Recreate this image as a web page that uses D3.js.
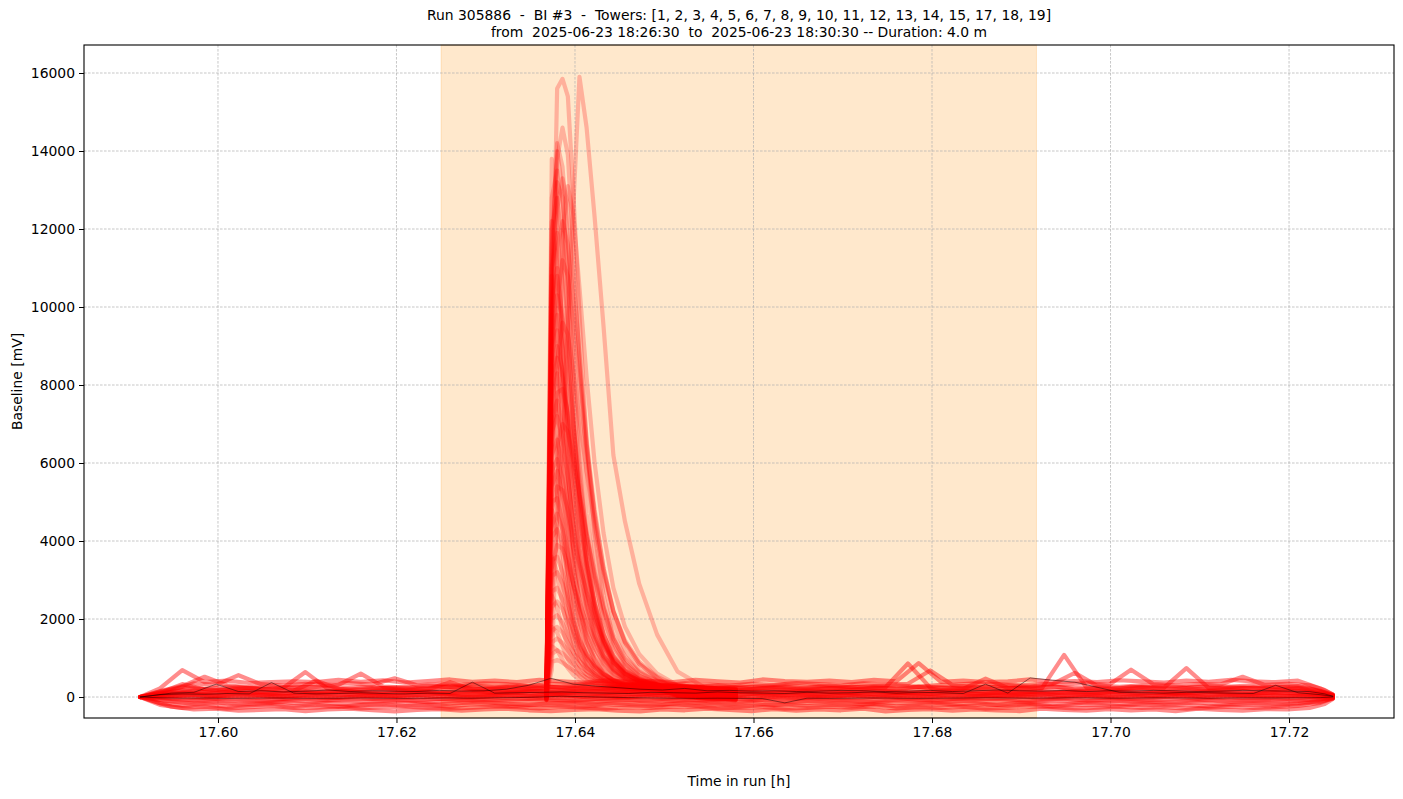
<!DOCTYPE html>
<html>
<head>
<meta charset="utf-8">
<script src="https://cdn.jsdelivr.net/npm/d3@7"></script>
<style>
  body { margin: 0; background: #fff; }
  svg { display: block; font-family: "DejaVu Sans", sans-serif; }
  text { white-space: pre; }
</style>
</head>
<body>
<div id="chart"></div>
<script>
/* ============================================= */
/* Data */
/* ============================================= */

const titleLines = [
    'Run 305886  -  BI #3  -  Towers: [1, 2, 3, 4, 5, 6, 7, 8, 9, 10, 11, 12, 13, 14, 15, 17, 18, 19]',
    'from  2025-06-23 18:26:30  to  2025-06-23 18:30:30 -- Duration: 4.0 m'
];
const xLabel = 'Time in run [h]';
const yLabel = 'Baseline [mV]';

const xTicks = [17.60, 17.62, 17.64, 17.66, 17.68, 17.70, 17.72];
const yTicks = [0, 2000, 4000, 6000, 8000, 10000, 12000, 14000, 16000];

// shaded run window (18:26:30 -> 18:30:30)
const spanStart = 17.6250;
const spanEnd = 17.6917;

// sample times [h] of the two baseline readout grids
const gridA = [17.5913, 17.5935, 17.5960, 17.5985, 17.6010, 17.6035, 17.6060, 17.6085, 17.6110, 17.6135,
    17.6160, 17.6185, 17.6210, 17.6235, 17.6260, 17.6285, 17.6310, 17.6335, 17.6360, 17.6385,
    17.6410, 17.6435, 17.6460, 17.6485, 17.6510, 17.6535, 17.6560, 17.6585, 17.6610, 17.6635,
    17.6660, 17.6685, 17.6710, 17.6735, 17.6760, 17.6785, 17.6810, 17.6835, 17.6860, 17.6885,
    17.6910, 17.6935, 17.6960, 17.6985, 17.7010, 17.7035, 17.7060, 17.7085, 17.7110, 17.7135,
    17.7160, 17.7185, 17.7210, 17.7235, 17.7249];
const gridB = [17.5913, 17.5948, 17.5973, 17.5998, 17.6023, 17.6048, 17.6073, 17.6098, 17.6123, 17.6148,
    17.6173, 17.6198, 17.6223, 17.6248, 17.6273, 17.6298, 17.6323, 17.6348, 17.6373, 17.6398,
    17.6423, 17.6448, 17.6473, 17.6498, 17.6523, 17.6548, 17.6573, 17.6598, 17.6623, 17.6648,
    17.6673, 17.6698, 17.6723, 17.6748, 17.6773, 17.6798, 17.6823, 17.6848, 17.6873, 17.6898,
    17.6923, 17.6948, 17.6973, 17.6998, 17.7023, 17.7048, 17.7073, 17.7098, 17.7123, 17.7148,
    17.7173, 17.7198, 17.7223, 17.7240, 17.7249];

// sample times [h] across the pulse
const pulseTimes = [17.6368, 17.6374, 17.6380, 17.6386, 17.6392, 17.6398, 17.6405, 17.6413, 17.6422,
    17.6432, 17.6443, 17.6456, 17.6472, 17.6492, 17.6515, 17.6545, 17.6580];

// channels without pulse [mV], each on gridA (even) or gridB (odd)
const baselineTraces = [
    [0,60,120,90,140,110,80,130,100,150,120,90,110,140,100,130,90,120,150,110,130,100,140,120,90,130,110,150,100,120,90,140,110,130,100,120,150,110,90,130,120,100,140,110,130,90,120,100,140,110,90,120,100,80,40],
    [0,40,70,30,90,50,20,60,80,40,70,30,50,90,60,20,70,40,80,50,30,60,90,40,70,50,20,80,60,40,70,30,90,50,60,80,40,70,30,60,90,50,40,70,60,30,80,50,70,40,60,30,50,20,10],
    [0,110,330,200,170,240,190,160,420,210,180,230,170,200,380,190,220,170,210,180,240,200,170,220,190,260,210,180,230,200,170,220,190,240,200,260,180,210,470,230,200,280,190,220,180,240,200,230,180,210,250,190,220,120,50],
    [0,-50,-80,-40,-70,-90,-60,-50,-80,-70,-40,-60,-90,-50,-70,-80,-60,-40,-70,-90,-60,-50,-80,-70,-60,-90,-50,-70,-80,-60,-40,-70,-90,-60,-50,-80,-70,-60,-40,-80,-70,-50,-90,-60,-80,-70,-50,-60,-80,-70,-60,-50,-70,-40,-20],
    [0,150,280,520,300,250,280,230,260,310,600,270,240,290,260,300,250,280,240,260,300,270,250,320,280,260,300,240,280,310,260,290,250,280,300,260,310,280,250,300,270,330,620,290,260,300,280,250,280,270,300,260,280,160,60],
    [0,130,220,180,250,200,230,640,210,190,240,220,200,260,230,190,240,210,250,220,200,240,260,220,190,230,250,210,240,200,260,230,210,250,860,240,220,230,200,250,220,1080,240,200,260,230,210,250,220,240,200,230,210,120,40],
    [0,10,30,-10,40,20,0,30,10,-20,20,40,10,0,30,-10,20,40,10,30,0,20,-10,30,10,40,20,0,30,10,-10,20,40,0,30,10,20,-10,30,40,10,0,20,30,-10,20,10,40,0,30,20,10,30,0,0],
    [0,-120,-170,-140,-190,-160,-130,-180,-150,-200,-170,-140,-160,-190,-150,-130,-170,-200,-160,-140,-180,-150,-170,-190,-140,-160,-180,-150,-200,-170,-140,-160,-190,-150,-170,-140,-180,-160,-200,-150,-170,-190,-140,-160,-180,-150,-170,-140,-190,-160,-150,-170,-130,-80,-30],
    [0,-200,-280,-250,-300,-260,-230,-280,-270,-240,-290,-260,-250,-280,-300,-270,-240,-260,-290,-250,-270,-300,-260,-280,-250,-240,-290,-270,-260,-300,-280,-250,-270,-240,-290,-260,-280,-250,-300,-270,-240,-260,-290,-270,-250,-280,-260,-300,-270,-250,-280,-260,-230,-150,-40],
    [0,180,350,310,560,330,290,340,310,360,320,480,300,340,310,350,330,290,340,320,360,310,340,300,350,320,290,340,310,360,330,300,350,320,340,680,310,350,330,300,340,320,360,310,700,330,300,340,320,520,310,340,300,180,60],
    [0,100,160,130,170,150,120,180,140,160,130,170,150,140,180,160,130,170,150,140,170,160,130,180,150,140,170,130,160,180,150,140,170,160,130,180,150,170,140,160,130,180,150,160,140,170,130,160,150,180,140,170,150,90,30],
    [0,-30,-10,-40,0,-20,-50,-10,-30,0,-40,-20,-10,-50,-30,0,-20,-40,-10,-30,-50,-20,0,-40,-10,-30,-20,-50,0,-40,-10,-30,-20,0,-40,-10,-50,-20,-30,0,-40,-20,-10,-30,-50,-20,0,-40,-10,-30,-20,-40,-10,-10,0],
    [0,220,690,380,420,360,380,400,380,440,390,430,370,410,450,390,420,380,440,400,370,430,390,410,380,440,400,370,450,410,390,420,380,440,400,870,390,420,380,400,450,390,410,380,430,400,370,420,390,440,400,380,420,220,70],
    [0,70,100,60,110,90,70,120,80,100,60,90,110,80,70,100,120,90,60,110,80,100,70,90,120,60,100,80,110,90,70,100,60,120,90,80,110,70,100,90,60,120,80,100,70,110,90,80,100,60,110,90,70,40,10],
    [0,-80,-110,-90,-120,-100,-130,-90,-110,-80,-120,-100,-90,-130,-110,-80,-100,-120,-90,-110,-130,-100,-80,-120,-90,-110,-100,-130,-80,-120,-100,-90,-110,-130,-80,-100,-120,-90,-110,-100,-130,-80,-120,-100,-90,-110,-130,-100,-80,-120,-90,-110,-100,-60,-20],
    [0,-250,-320,-300,-350,-330,-310,-360,-320,-300,-340,-370,-330,-310,-350,-320,-300,-340,-360,-330,-310,-350,-370,-320,-340,-300,-330,-360,-310,-350,-320,-340,-300,-370,-330,-310,-350,-320,-340,-360,-300,-330,-350,-310,-340,-320,-360,-300,-330,-350,-310,-320,-280,-180,-50],
    [0,140,250,210,260,230,200,270,240,220,260,230,250,210,280,240,220,260,300,230,250,210,240,270,230,260,220,250,240,270,210,230,260,240,220,270,250,230,260,220,240,270,230,250,220,260,240,740,230,250,220,260,240,140,40],
    [0,90,140,110,160,130,100,150,120,140,110,160,130,100,150,140,120,160,110,130,150,120,140,100,160,130,110,150,120,140,160,100,130,150,120,110,140,160,130,120,150,110,140,130,160,120,100,150,130,140,110,160,130,70,20],
    [0,-160,-220,-190,-240,-210,-180,-230,-200,-250,-210,-190,-230,-200,-240,-180,-210,-230,-200,-220,-240,-190,-210,-230,-180,-220,-200,-240,-210,-190,-230,-200,-220,-180,-240,-210,-190,-230,-200,-220,-180,-240,-210,-200,-230,-190,-220,-200,-240,-210,-190,-220,-180,-120,-40],
    [0,30,60,20,50,40,10,60,30,50,20,40,60,30,10,50,40,20,60,30,50,10,40,60,20,50,30,40,10,60,30,50,20,40,60,10,50,30,40,20,60,30,50,10,40,20,60,30,50,40,20,50,30,20,10]
];

// channels with the pulse [mV], on pulseTimes
const pulseTraces = [
    [-60,9000,15600,15850,15400,13000,9800,6500,4200,2600,1500,900,550,350,40,-20,-60],
    [40,2500,4500,6500,9500,12500,15900,14600,12300,9500,6200,4500,2900,1600,650,250,40],
    [150,8500,13800,14600,13900,11500,8600,5800,3800,2300,1400,850,500,320,250,190,150],
    [0,11000,14200,13600,11800,9200,6800,4700,3100,1900,1200,750,480,330,100,40,0],
    [100,10500,13200,12800,11000,8500,6000,4000,2600,1600,1000,650,430,300,200,140,100],
    [200,9500,12500,13300,12600,10800,8800,6600,4600,3000,1900,1200,700,420,300,240,200],
    [-30,12000,12800,11500,9400,7200,5200,3500,2300,1450,900,600,420,310,70,10,-30],
    [80,7800,11500,12200,11600,10200,8400,6500,4800,3300,2200,1400,850,480,180,120,80],
    [170,11000,11900,10600,8800,6900,5100,3600,2400,1600,1050,700,460,320,270,210,170],
    [20,6000,10200,11200,10800,9600,8000,6300,4700,3300,2200,1400,850,500,120,60,20],
    [120,10000,10800,9800,8100,6300,4700,3300,2200,1400,900,600,400,290,220,160,120],
    [-80,9200,10300,9700,8500,7000,5600,4200,3000,2000,1300,850,540,360,20,-40,-80],
    [60,9000,9800,9000,7500,5900,4400,3100,2100,1350,880,580,400,300,160,100,60],
    [180,5200,8600,9600,9300,8400,7100,5800,4400,3200,2200,1450,900,520,280,220,180],
    [10,8200,9000,8400,7100,5600,4200,3000,2000,1300,850,560,380,280,110,50,10],
    [-60,7800,8700,8200,7200,5900,4600,3400,2400,1600,1050,680,450,320,40,-20,-60],
    [40,7600,8300,7500,6200,4800,3500,2400,1600,1050,700,480,350,270,140,80,40],
    [150,6500,7800,7900,7300,6300,5200,4100,3100,2200,1500,980,620,400,250,190,150],
    [0,7000,7600,6900,5700,4400,3300,2300,1550,1000,680,470,340,260,100,40,0],
    [100,6800,7200,6600,5600,4500,3500,2600,1850,1250,820,550,380,280,200,140,100],
    [200,4000,6400,7000,6800,6100,5200,4200,3200,2300,1600,1050,650,400,300,240,200],
    [-30,6200,6600,6000,5000,3900,2900,2050,1400,950,650,450,330,260,70,10,-30],
    [80,5800,6100,5600,4700,3800,2900,2150,1550,1050,720,490,350,270,180,120,80],
    [170,5400,5800,5200,4300,3300,2500,1800,1250,850,580,420,310,250,270,210,170],
    [20,4800,5400,5300,4800,4100,3400,2700,2000,1450,1000,680,450,320,120,60,20],
    [120,5000,5100,4500,3700,2900,2200,1600,1100,760,520,380,290,240,220,160,120],
    [-80,4400,4700,4300,3600,2900,2250,1700,1250,880,620,440,320,260,20,-40,-80],
    [60,4100,4300,3900,3200,2500,1900,1400,1000,700,500,370,290,240,160,100,60],
    [180,3300,3900,3800,3400,2900,2400,1900,1450,1050,750,520,370,280,280,220,180],
    [10,3500,3600,3200,2600,2000,1500,1100,800,580,430,330,270,230,110,50,10],
    [-60,3100,3200,2900,2400,1900,1450,1100,820,600,450,340,280,230,40,-20,-60],
    [40,2700,2800,2500,2100,1700,1300,1000,760,570,430,330,270,230,140,80,40],
    [150,2300,2450,2250,1900,1550,1250,980,760,580,440,340,280,240,250,190,150],
    [0,2000,2100,1900,1600,1300,1050,820,640,500,390,310,260,220,100,40,0],
    [100,1700,1800,1650,1400,1150,930,750,600,470,380,300,250,220,200,140,100],
    [200,1400,1500,1380,1200,1000,820,670,540,440,360,290,250,220,300,240,200],
    [-30,1100,1200,1120,980,840,700,580,480,400,330,280,240,210,70,10,-30],
    [80,900,950,880,780,680,580,490,420,360,300,260,230,210,180,120,80],
    [170,12800,13500,12000,9600,7100,5000,3400,2200,1400,900,600,420,300,270,210,170],
    [20,700,5000,11800,13100,12400,10500,8200,6000,4200,2800,1800,1100,600,300,120,20],
    [120,13800,12500,9000,6000,3800,2400,1500,950,620,420,320,260,220,220,160,120],
    [-80,12200,11000,8000,5400,3500,2200,1400,900,600,420,310,250,210,20,-40,-80],
    [60,10800,9500,6800,4500,2900,1900,1200,800,540,390,300,250,210,160,100,60],
    [180,9800,8200,5800,3800,2500,1600,1050,700,490,360,280,240,210,280,220,180],
    [10,8500,7000,4900,3200,2100,1400,900,620,440,330,270,230,200,110,50,10],
    [-60,7200,6100,4300,2900,1900,1250,830,580,420,320,260,230,200,40,-20,-60],
    [40,6000,5200,3700,2500,1650,1100,750,530,390,300,250,220,200,140,80,40],
    [150,4800,4200,3000,2050,1400,950,660,480,360,290,240,210,190,250,190,150],
    [0,3600,3200,2350,1650,1150,800,570,420,330,270,230,200,190,100,40,0],
    [100,2600,2300,1750,1250,900,650,480,370,300,250,220,200,180,200,140,100],
    [200,1800,1650,1300,960,720,540,410,330,270,230,210,190,180,300,240,200],
    [-30,1300,1200,950,740,570,450,360,300,250,220,200,190,180,70,10,-30],
    [80,11500,14000,13000,10500,7800,5500,3700,2400,1500,950,620,420,300,180,120,80],
    [170,10200,11000,9200,7000,5100,3600,2500,1700,1100,720,480,350,270,270,210,170],
    [20,8800,9400,8300,6700,5100,3800,2700,1900,1300,880,600,420,310,120,60,20]
];

// reference channels drawn in thin black [mV]
const blackTraceA = [0,-20,-30,-25,-35,-30,-25,-30,-35,-30,-25,-30,-35,-30,-25,-30,-20,-15,0,20,10,-5,-15,-25,-30,-35,-30,-35,-40,-150,-30,-35,-30,-25,-30,-35,-30,-25,-20,-25,-30,-25,-20,-25,-30,-25,-20,-25,-30,-25,-20,-25,-20,-15,0];
const blackTraceB = [0,100,120,330,140,160,130,150,180,140,160,150,140,170,150,160,200,300,480,330,280,240,200,180,220,160,170,150,160,140,150,170,160,140,150,170,140,160,180,160,150,170,140,160,150,170,160,140,150,170,160,150,140,80,20];
const blackTraceC = [0,60,80,70,90,80,370,100,80,90,110,90,80,100,90,380,100,110,120,130,110,100,90,120,110,100,130,110,100,90,120,100,110,130,100,120,110,90,330,100,490,430,380,250,120,110,100,120,110,100,90,300,110,60,20];

/* ============================================= */
/* Layout and Scales */
/* ============================================= */

const W = 1403, H = 799;
const plot = { left: 84, right: 1394, top: 45, bottom: 718 };
const fontSize = '13.9px';

const svg = d3.select('#chart').append('svg')
    .attr('width', W)
    .attr('height', H);

const x = d3.scaleLinear()
    .domain([17.58499, 17.73176])
    .range([plot.left, plot.right]);

const y = d3.scaleLinear()
    .domain([-538, 16718])
    .range([plot.bottom, plot.top]);

svg.append('clipPath').attr('id', 'clip')
    .append('rect')
    .attr('x', plot.left).attr('y', plot.top)
    .attr('width', plot.right - plot.left)
    .attr('height', plot.bottom - plot.top);

/* ============================================= */
/* Background span and grid */
/* ============================================= */

svg.append('rect')
    .attr('x', x(spanStart))
    .attr('y', plot.top)
    .attr('width', x(spanEnd) - x(spanStart))
    .attr('height', plot.bottom - plot.top)
    .style('fill', 'rgba(255,140,0,0.2)')
    .style('stroke', 'rgba(255,140,0,0.2)')
    .style('stroke-width', 1);

const grid = svg.append('g').attr('class', 'grid');
grid.selectAll('.gx').data(xTicks).enter().append('line')
    .attr('x1', d => x(d)).attr('x2', d => x(d))
    .attr('y1', plot.top).attr('y2', plot.bottom);
grid.selectAll('.gy').data(yTicks).enter().append('line')
    .attr('x1', plot.left).attr('x2', plot.right)
    .attr('y1', d => y(d)).attr('y2', d => y(d));
grid.selectAll('line')
    .style('stroke', '#b0b0b0')
    .style('stroke-width', 0.7)
    .style('stroke-dasharray', '2.6,1.4');

/* ============================================= */
/* Traces */
/* ============================================= */

const line = d3.line().x(d => x(d[0])).y(d => y(d[1]));
const traces = svg.append('g').attr('clip-path', 'url(#clip)');

function drawTrace(times, values, color, width, opacity) {
    traces.append('path')
        .datum(d3.zip(times, values))
        .attr('d', line)
        .style('fill', 'none')
        .style('stroke', color)
        .style('stroke-width', width)
        .style('stroke-opacity', opacity)
        .style('stroke-linejoin', 'round')
        .style('stroke-linecap', 'round');
}

baselineTraces.forEach((vals, i) => {
    drawTrace(i % 2 === 0 ? gridA : gridB, vals, '#ff0000', 4.2, 0.45);
});
pulseTraces.forEach(vals => {
    drawTrace(pulseTimes, vals, '#ff0000', 4.2, 0.24);
});
drawTrace(gridA, blackTraceA, '#000000', 1, 0.45);
drawTrace(gridB, blackTraceB, '#000000', 1, 0.45);
drawTrace(gridA, blackTraceC, '#000000', 1, 0.45);

/* ============================================= */
/* Axes and labels */
/* ============================================= */

const xAxis = svg.append('g')
    .attr('transform', `translate(0,${plot.bottom})`)
    .call(d3.axisBottom(x).tickValues(xTicks).tickFormat(d3.format('.2f')).tickSize(5).tickPadding(4));
const yAxis = svg.append('g')
    .attr('transform', `translate(${plot.left},0)`)
    .call(d3.axisLeft(y).tickValues(yTicks).tickFormat(d3.format('d')).tickSize(5).tickPadding(4));

[xAxis, yAxis].forEach(g => {
    g.select('.domain').remove();
    g.selectAll('text').style('font-size', fontSize).style('fill', '#000').style('font-family', '"DejaVu Sans", sans-serif');
    g.selectAll('line').style('stroke', '#000').style('stroke-width', 1);
});

svg.append('rect')
    .attr('x', plot.left).attr('y', plot.top)
    .attr('width', plot.right - plot.left)
    .attr('height', plot.bottom - plot.top)
    .style('fill', 'none')
    .style('stroke', '#000')
    .style('stroke-width', 1.1);

svg.append('text')
    .attr('x', (plot.left + plot.right) / 2)
    .attr('y', 786)
    .attr('text-anchor', 'middle')
    .style('font-size', fontSize)
    .text(xLabel);

svg.append('text')
    .attr('transform', `translate(22,${(plot.top + plot.bottom) / 2}) rotate(-90)`)
    .attr('text-anchor', 'middle')
    .style('font-size', fontSize)
    .text(yLabel);

svg.append('g').selectAll('text')
    .data(titleLines).enter().append('text')
    .attr('x', (plot.left + plot.right) / 2)
    .attr('y', (d, i) => 20 + i * 17)
    .attr('text-anchor', 'middle')
    .style('font-size', fontSize)
    .text(d => d);
</script>
</body>
</html>
